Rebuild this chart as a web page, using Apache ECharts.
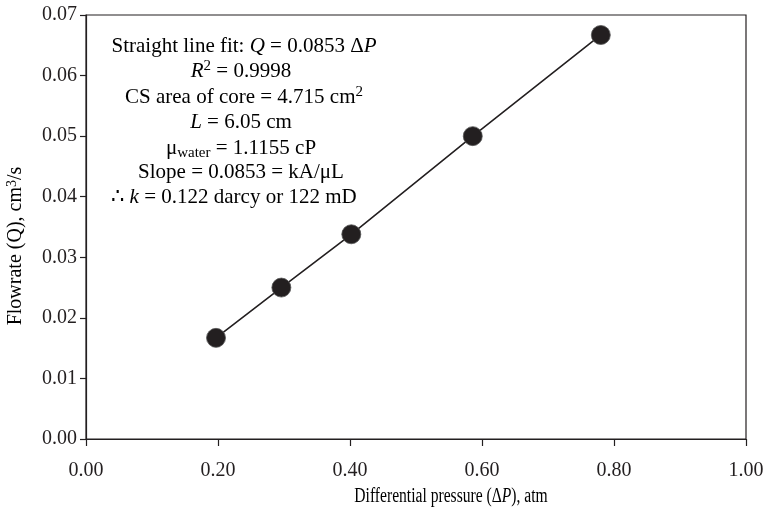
<!DOCTYPE html>
<html>
<head>
<meta charset="utf-8">
<script src="https://cdn.jsdelivr.net/npm/echarts@6/dist/echarts.min.js"></script>
<style>
  html, body { margin: 0; padding: 0; background: #fff; }
  #chart { width: 767px; height: 516px; }
</style>
</head>
<body>
<div id="chart"></div>
<script>
  // measured points, differential pressure (atm) vs flowrate (cm3/s)
  const dpValues = [0.197, 0.296, 0.402, 0.586, 0.780]
  const qValues = [0.0167, 0.0250, 0.0338, 0.0500, 0.0667]
  const xRange = [0, 1.0, 0.2]
  const yRange = [0, 0.07, 0.01]

  const ink = '#231f20'
  const serif = '"Liberation Serif", "Times New Roman", serif'

  const points = dpValues.map((x, i) => [x, qValues[i]])

  const normal = { fontSize: 21, fontFamily: serif, color: ink, lineHeight: 25 }
  const richStyle = {
    n: normal,
    i: Object.assign({}, normal, { fontStyle: 'italic' }),
    sup: { fontSize: 15, fontFamily: serif, color: ink, lineHeight: 15, verticalAlign: 'top' },
    sub: { fontSize: 15, fontFamily: serif, color: ink, lineHeight: 15, verticalAlign: 'bottom' }
  }

  const noteLines = [
    ['{n|Straight line fit: }{i|Q}{n| = 0.0853 Δ}{i|P}', 244, 46],
    ['{i|R}{sup|2}{n| = 0.9998}', 241, 71],
    ['{n|CS area of core = 4.715 cm}{sup|2}', 244, 97],
    ['{i|L}{n| = 6.05 cm}', 241, 122],
    ['{n|μ}{sub|water}{n| = 1.1155 cP}', 241, 148],
    ['{n|Slope = 0.0853 = kA/μL}', 241, 172],
    ['{n|∴ }{i|k}{n| = 0.122 darcy or 122 mD}', 234, 197]
  ]

  const graphics = noteLines.map(l => ({
    type: 'text',
    x: l[1],
    y: l[2],
    style: { text: l[0], rich: richStyle, align: 'center', verticalAlign: 'middle' }
  }))

  graphics.push({
    type: 'text',
    x: 451,
    y: 497,
    scaleX: 0.78,
    style: {
      text: '{n|Differential pressure (Δ}{i|P}{n|), atm}',
      rich: {
        n: { fontSize: 20, fontFamily: serif, color: ink },
        i: { fontSize: 20, fontFamily: serif, color: ink, fontStyle: 'italic' }
      },
      align: 'center',
      verticalAlign: 'middle'
    }
  })

  graphics.push({
    type: 'text',
    x: 16,
    y: 246,
    rotation: Math.PI / 2,
    style: {
      text: '{n|Flowrate (Q), cm}{sup|3}{n|/s}',
      rich: {
        n: { fontSize: 20, fontFamily: serif, color: ink, lineHeight: 22 },
        sup: { fontSize: 14, fontFamily: serif, color: ink, lineHeight: 14, verticalAlign: 'top' }
      },
      align: 'center',
      verticalAlign: 'middle'
    }
  })

  const chart = echarts.init(document.getElementById('chart'))
  chart.setOption({
    backgroundColor: '#fff',
    animation: false,
    grid: {
      left: 86,
      top: 15,
      right: 21,
      bottom: 77,
      show: true,
      borderColor: ink,
      borderWidth: 1.2
    },
    xAxis: {
      type: 'value',
      min: xRange[0],
      max: xRange[1],
      interval: xRange[2],
      axisLine: { show: true, lineStyle: { color: ink, width: 1.2 } },
      axisTick: { show: true, length: 7, lineStyle: { color: ink, width: 1.2 } },
      splitLine: { show: false },
      axisLabel: {
        margin: 22,
        fontSize: 20,
        fontFamily: serif,
        color: ink,
        formatter: v => v.toFixed(2)
      }
    },
    yAxis: {
      type: 'value',
      min: yRange[0],
      max: yRange[1],
      interval: yRange[2],
      axisLine: { show: true, lineStyle: { color: ink, width: 1.2 } },
      axisTick: { show: true, length: 6, lineStyle: { color: ink, width: 1.2 } },
      splitLine: { show: false },
      axisLabel: {
        margin: 9,
        fontSize: 20,
        fontFamily: serif,
        color: ink,
        formatter: v => v.toFixed(2)
      }
    },
    series: [
      {
        type: 'line',
        data: points,
        symbol: 'circle',
        symbolSize: 19,
        lineStyle: { color: ink, width: 1.6 },
        itemStyle: { color: ink, borderColor: '#555', borderWidth: 0.8 },
        emphasis: { disabled: true }
      }
    ],
    graphic: graphics
  })
</script>
</body>
</html>
